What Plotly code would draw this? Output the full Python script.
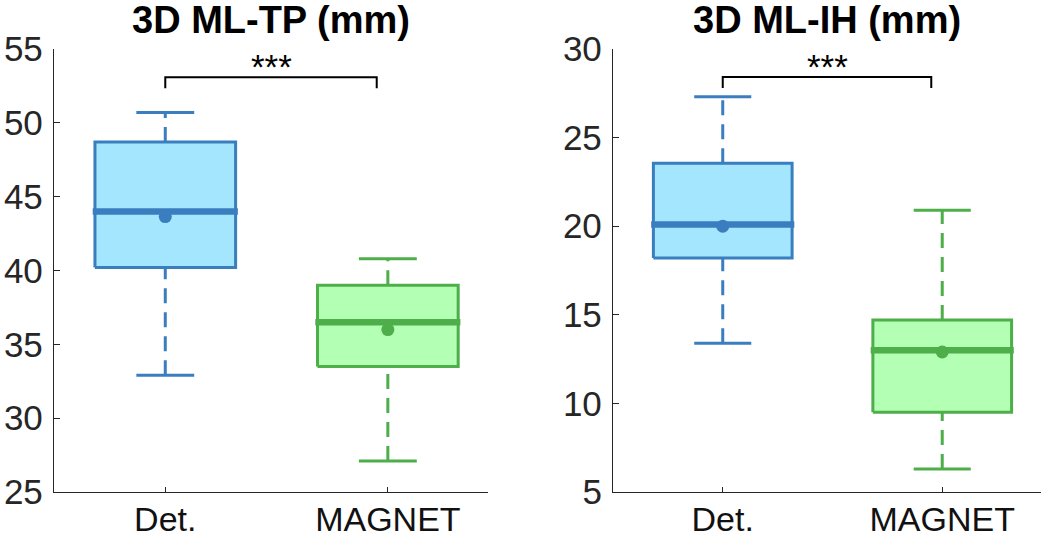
import plotly.graph_objects as go

categories = ["Det.", "MAGNET"]

# 3D ML-TP (mm)
tp_lower = [32.9, 27.1]
tp_q1 = [40.2, 33.5]
tp_median = [44.0, 36.5]
tp_q3 = [48.7, 39.0]
tp_upper = [50.7, 40.8]
tp_mean = [43.65, 36.0]

# 3D ML-IH (mm)
ih_lower = [13.4, 6.3]
ih_q1 = [18.2, 9.5]
ih_median = [20.1, 13.0]
ih_q3 = [23.55, 14.7]
ih_upper = [27.3, 20.9]
ih_mean = [20.0, 12.9]

tp_ticks = [25, 30, 35, 40, 45, 50, 55]
ih_ticks = [5, 10, 15, 20, 25, 30]

titles = ["3D ML-TP (mm)", "3D ML-IH (mm)"]
sig_label = "***"
tp_bracket = [52.35, 53.08]
ih_bracket = [27.8, 28.42]

edge_colors = ["#3a7ebf", "#4dae4a"]
fill_colors = ["#a3e6fd", "#b3ffb3"]

W, H = 1050, 539
BOX_HW = 0.316
MED_HW = 0.326
CAP_HW = 0.13

fig = go.Figure()

panels = [
    dict(xa="x", ya="y", lower=tp_lower, q1=tp_q1, med=tp_median, q3=tp_q3,
         upper=tp_upper, mean=tp_mean, br=tp_bracket),
    dict(xa="x2", ya="y2", lower=ih_lower, q1=ih_q1, med=ih_median, q3=ih_q3,
         upper=ih_upper, mean=ih_mean, br=ih_bracket),
]

for p in panels:
    for i, cat in enumerate(categories):
        pos = i + 1
        ec, fc = edge_colors[i], fill_colors[i]
        common = dict(xaxis=p["xa"], yaxis=p["ya"], showlegend=False, hoverinfo="skip")
        # whiskers (dashed)
        fig.add_trace(go.Scatter(x=[pos, pos], y=[p["q3"][i], p["upper"][i]], mode="lines",
                                 line=dict(color=ec, width=3, dash="15px,9px"), **common))
        fig.add_trace(go.Scatter(x=[pos, pos], y=[p["lower"][i], p["q1"][i]], mode="lines",
                                 line=dict(color=ec, width=3, dash="15px,9px"), **common))
        # caps
        for v in (p["upper"][i], p["lower"][i]):
            fig.add_trace(go.Scatter(x=[pos - CAP_HW, pos + CAP_HW], y=[v, v], mode="lines",
                                     line=dict(color=ec, width=3), **common))
        # box
        fig.add_trace(go.Scatter(
            x=[pos - BOX_HW, pos + BOX_HW, pos + BOX_HW, pos - BOX_HW, pos - BOX_HW],
            y=[p["q1"][i], p["q1"][i], p["q3"][i], p["q3"][i], p["q1"][i]],
            mode="lines", fill="toself", fillcolor=fc,
            line=dict(color=ec, width=3), **common))
        # median
        fig.add_trace(go.Scatter(x=[pos - MED_HW, pos + MED_HW], y=[p["med"][i], p["med"][i]],
                                 mode="lines", line=dict(color=ec, width=6.5), **common))
        # mean
        fig.add_trace(go.Scatter(x=[pos], y=[p["mean"][i]], mode="markers",
                                 marker=dict(color=ec, size=13, line=dict(width=0)), **common))
    # significance bracket
    lo, hi = p["br"]
    fig.add_trace(go.Scatter(x=[1, 1, 1.95, 1.95], y=[lo, hi, hi, lo], mode="lines",
                             line=dict(color="black", width=2),
                             xaxis=p["xa"], yaxis=p["ya"], showlegend=False, hoverinfo="skip"))

font_family = "Liberation Sans, Arial, sans-serif"
tick_font = dict(family=font_family, size=35, color="#262626")

xdom1 = [54 / W, 488 / W]
xdom2 = [613 / W, 1041 / W]
ydom = [1 - 492 / H, 1 - 49 / H]

xaxis_common = dict(range=[0.5, 2.45], tickmode="array", tickvals=[1, 2], ticktext=categories,
                    ticks="inside", ticklen=5, tickwidth=1.3, tickcolor="#262626",
                    showline=True, linecolor="#262626", linewidth=1.3, mirror=False,
                    showgrid=False, zeroline=False,
                    tickfont=dict(family=font_family, size=34, color="#111111"),
                    ticklabelstandoff=-3, fixedrange=True)
yaxis_common = dict(ticks="inside", ticklen=6, tickwidth=1.3, tickcolor="#262626",
                    showline=True, linecolor="#262626", linewidth=1.3, mirror=False,
                    showgrid=False, zeroline=False, tickfont=tick_font,
                    ticklabelstandoff=3, fixedrange=True)

fig.update_layout(
    width=W, height=H,
    margin=dict(l=0, r=0, t=0, b=0, autoexpand=False),
    paper_bgcolor="white", plot_bgcolor="white",
    xaxis=dict(domain=xdom1, anchor="y", **xaxis_common),
    xaxis2=dict(domain=xdom2, anchor="y2", **xaxis_common),
    yaxis=dict(domain=ydom, anchor="x", range=[25, 55], tickvals=tp_ticks, **yaxis_common),
    yaxis2=dict(domain=ydom, anchor="x2", range=[5, 30], tickvals=ih_ticks, **yaxis_common),
)

for k, (t, xr, yr, br) in enumerate(zip(titles, ["x domain", "x2 domain"], ["y", "y2"],
                                          [tp_bracket, ih_bracket])):
    fig.add_annotation(text="<b>" + t + "</b>", xref=xr, x=0.5, yref="paper", y=1 - 20 / H,
                       xanchor="center", yanchor="middle", showarrow=False,
                       font=dict(family=font_family, size=38, color="black"))
    fig.add_annotation(text=sig_label, xref=xr.split(" ")[0], x=1.475, yref=yr, y=br[1],
                       xanchor="center", yanchor="bottom", yshift=-11, showarrow=False,
                       font=dict(family=font_family, size=35, color="black"))

fig.write_html("out.html", config={"displayModeBar": False},
               post_script="document.body.style.margin='0';")
